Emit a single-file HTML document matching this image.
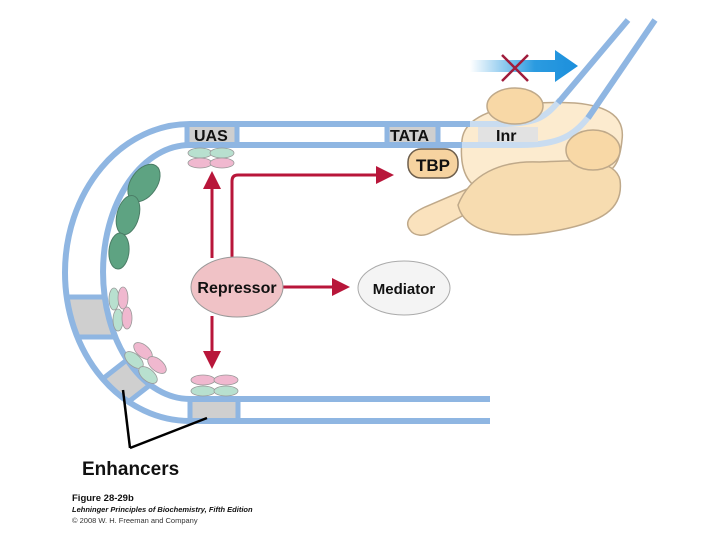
<!DOCTYPE html>
<html><head><meta charset="utf-8"><style>
html,body{margin:0;padding:0;background:#fff;}
svg{display:block;font-family:"Liberation Sans",sans-serif;}
.b{font-weight:700;}
</style></head><body>
<svg width="720" height="540" viewBox="0 0 720 540" xmlns="http://www.w3.org/2000/svg">
<defs>
<linearGradient id="bg" x1="0" x2="1"><stop offset="0" stop-color="#2b9be0" stop-opacity="0"/><stop offset="0.6" stop-color="#2b9be0"/><stop offset="1" stop-color="#1c8fdc"/></linearGradient>
<marker id="ah" markerWidth="6" markerHeight="6" refX="3" refY="3" orient="auto" markerUnits="strokeWidth"><path d="M0,0 L6,3 L0,6 Z" fill="#b8163a"/></marker>
<clipPath id="band"><path clip-rule="evenodd" d="M490,124 L190,124 A125,148.5 0 0 0 190,421 L490,421 Z M490,145 L190,145 A87,127 0 0 0 190,399 L490,399 Z"/></clipPath>
</defs>
<g clip-path="url(#band)">
<rect x="187" y="120" width="50" height="30" fill="#cfcfcf"/>
<rect x="387" y="120" width="51" height="30" fill="#cfcfcf"/>
<rect x="190" y="395" width="48" height="30" fill="#cfcfcf"/>
<rect x="55" y="298" width="60" height="38" fill="#cfcfcf"/>
<g transform="rotate(-38 125 383)"><rect x="100" y="366" width="50" height="34" fill="#cfcfcf"/>
<line x1="100" y1="366" x2="150" y2="366" stroke="#8fb6e2" stroke-width="5"/>
<line x1="100" y1="400" x2="150" y2="400" stroke="#8fb6e2" stroke-width="5"/></g>
<g stroke="#8fb6e2" stroke-width="5">
<line x1="187" y1="120" x2="187" y2="150"/><line x1="237" y1="120" x2="237" y2="150"/>
<line x1="387" y1="120" x2="387" y2="150"/><line x1="438" y1="120" x2="438" y2="150"/>
<line x1="190" y1="395" x2="190" y2="425"/><line x1="238" y1="395" x2="238" y2="425"/>
<line x1="55" y1="297" x2="115" y2="297"/><line x1="55" y1="337" x2="115" y2="337"/>
</g>
</g>
<g fill="none" stroke="#8fb6e2" stroke-width="6">
<path d="M470,124 L190,124 A125,148.5 0 0 0 190,421 L490,421"/>
<path d="M470,145 L190,145 A87,127 0 0 0 190,399 L490,399"/>
</g>
<g stroke="#bfa98a" stroke-width="1.5">
<path d="M410,230 C404,222 410,214 425,207 L488,180 L496,198 L432,232 C424,237 414,236 410,230 Z" fill="#fae2bd"/>
<path d="M462,140 C465,110 520,100 575,103 C610,106 625,118 622,140 C620,160 615,172 600,175 L480,190 C462,180 460,160 462,140 Z" fill="#fcebcf"/>
<path d="M458,205 C470,175 500,160 540,162 C580,160 615,158 620,180 C624,210 600,222 560,230 C510,240 465,235 458,205 Z" fill="#f7dcb0"/>
</g>
<g fill="none" stroke="#c9dcf0" stroke-width="6">
<path d="M462,124 L500,124 C535,124 545,118 560,100"/>
<path d="M462,145 L520,145 C560,145 575,135 590,115"/>
</g>
<rect x="478" y="127" width="60" height="15" fill="#e2e2e2"/>
<g fill="none" stroke="#8fb6e2" stroke-width="6">
<path d="M558,103 L628,20"/>
<path d="M588,118 L655,20"/>
<path d="M440,124 L470,124"/>
<path d="M440,145 L462,145"/>
</g>
<g stroke="#bfa98a" stroke-width="1.5" fill="#f8d8a6">
<ellipse cx="515" cy="106" rx="28" ry="18"/>
<ellipse cx="593" cy="150" rx="27" ry="20"/>
</g>
<rect x="408" y="149" width="50" height="29" rx="13" fill="#f6d3a0" stroke="#6e5f4d" stroke-width="1.5"/>
<g font-size="16" fill="#111" font-weight="700">
<text class="b" font-weight="700" x="194" y="141">UAS</text>
<text class="b" font-weight="700" x="390" y="141">TATA</text>
<text class="b" font-weight="700" x="496" y="141">Inr</text>
<text class="b" font-weight="700" x="416" y="171" font-size="17">TBP</text>
</g>
<path d="M470,60 L555,60 L555,50 L578,66 L555,82 L555,72 L470,72 Z" fill="url(#bg)"/>
<path d="M502,55 L528,81 M528,55 L502,81" stroke="#a01c3c" stroke-width="2.5"/>
<g fill="#5ea382" stroke="#4b7d66" stroke-width="1">
<ellipse cx="144" cy="183" rx="13" ry="21" transform="rotate(35 144 183)"/>
<ellipse cx="128" cy="215" rx="11" ry="20" transform="rotate(15 128 215)"/>
<ellipse cx="119" cy="251" rx="10" ry="18" transform="rotate(5 119 251)"/>
</g>
<g stroke="#999" stroke-width="0.8">
<ellipse cx="200" cy="153" rx="12" ry="5" fill="#b8e0cf"/><ellipse cx="222" cy="153" rx="12" ry="5" fill="#b8e0cf"/>
<ellipse cx="200" cy="163" rx="12" ry="5" fill="#f0b8cf"/><ellipse cx="222" cy="163" rx="12" ry="5" fill="#f0b8cf"/>
<ellipse cx="203" cy="380" rx="12" ry="5" fill="#f0b8cf"/><ellipse cx="226" cy="380" rx="12" ry="5" fill="#f0b8cf"/>
<ellipse cx="203" cy="391" rx="12" ry="5" fill="#b8e0cf"/><ellipse cx="226" cy="391" rx="12" ry="5" fill="#b8e0cf"/>
<ellipse cx="114" cy="299" rx="5" ry="11" fill="#b8e0cf"/><ellipse cx="123" cy="298" rx="5" ry="11" fill="#f0b8cf"/>
<ellipse cx="118" cy="320" rx="5" ry="11" fill="#b8e0cf"/><ellipse cx="127" cy="318" rx="5" ry="11" fill="#f0b8cf"/>
<ellipse cx="143" cy="351" rx="11" ry="6" fill="#f0b8cf" transform="rotate(40 143 351)"/>
<ellipse cx="134" cy="360" rx="11" ry="6" fill="#b8e0cf" transform="rotate(40 134 360)"/>
<ellipse cx="157" cy="365" rx="11" ry="6" fill="#f0b8cf" transform="rotate(40 157 365)"/>
<ellipse cx="148" cy="375" rx="11" ry="6" fill="#b8e0cf" transform="rotate(40 148 375)"/>
</g>
<g stroke="#b8163a" stroke-width="3" fill="none">
<line x1="212" y1="258" x2="212" y2="180" marker-end="url(#ah)"/>
<line x1="212" y1="316" x2="212" y2="360" marker-end="url(#ah)"/>
<path d="M232,258 L232,181 Q232,175 238,175 L385,175" marker-end="url(#ah)"/>
<line x1="282" y1="287" x2="341" y2="287" marker-end="url(#ah)"/>
</g>
<ellipse cx="237" cy="287" rx="46" ry="30" fill="#f0c2c6" stroke="#999" stroke-width="1"/>
<text class="b" font-weight="700" x="237" y="293" text-anchor="middle" font-size="16" fill="#111">Repressor</text>
<ellipse cx="404" cy="288" rx="46" ry="27" fill="#f4f4f4" stroke="#aaa" stroke-width="1"/>
<text class="b" font-weight="700" x="404" y="294" text-anchor="middle" font-size="15" fill="#111">Mediator</text>
<g stroke="#000" stroke-width="2.5">
<line x1="123" y1="390" x2="130" y2="448"/>
<line x1="130" y1="448" x2="207" y2="418"/>
</g>
<text class="b" font-weight="700" x="82" y="475" font-size="19" fill="#111">Enhancers</text>
<text class="b" font-weight="700" x="72" y="501" font-size="9.5" fill="#111">Figure 28-29b</text>
<text class="b" font-weight="700" x="72" y="512" font-style="italic" font-size="7.5" fill="#111">Lehninger Principles of Biochemistry, Fifth Edition</text>
<text x="72" y="523" font-size="7.5" fill="#333">© 2008 W. H. Freeman and Company</text>
</svg>
</body></html>
